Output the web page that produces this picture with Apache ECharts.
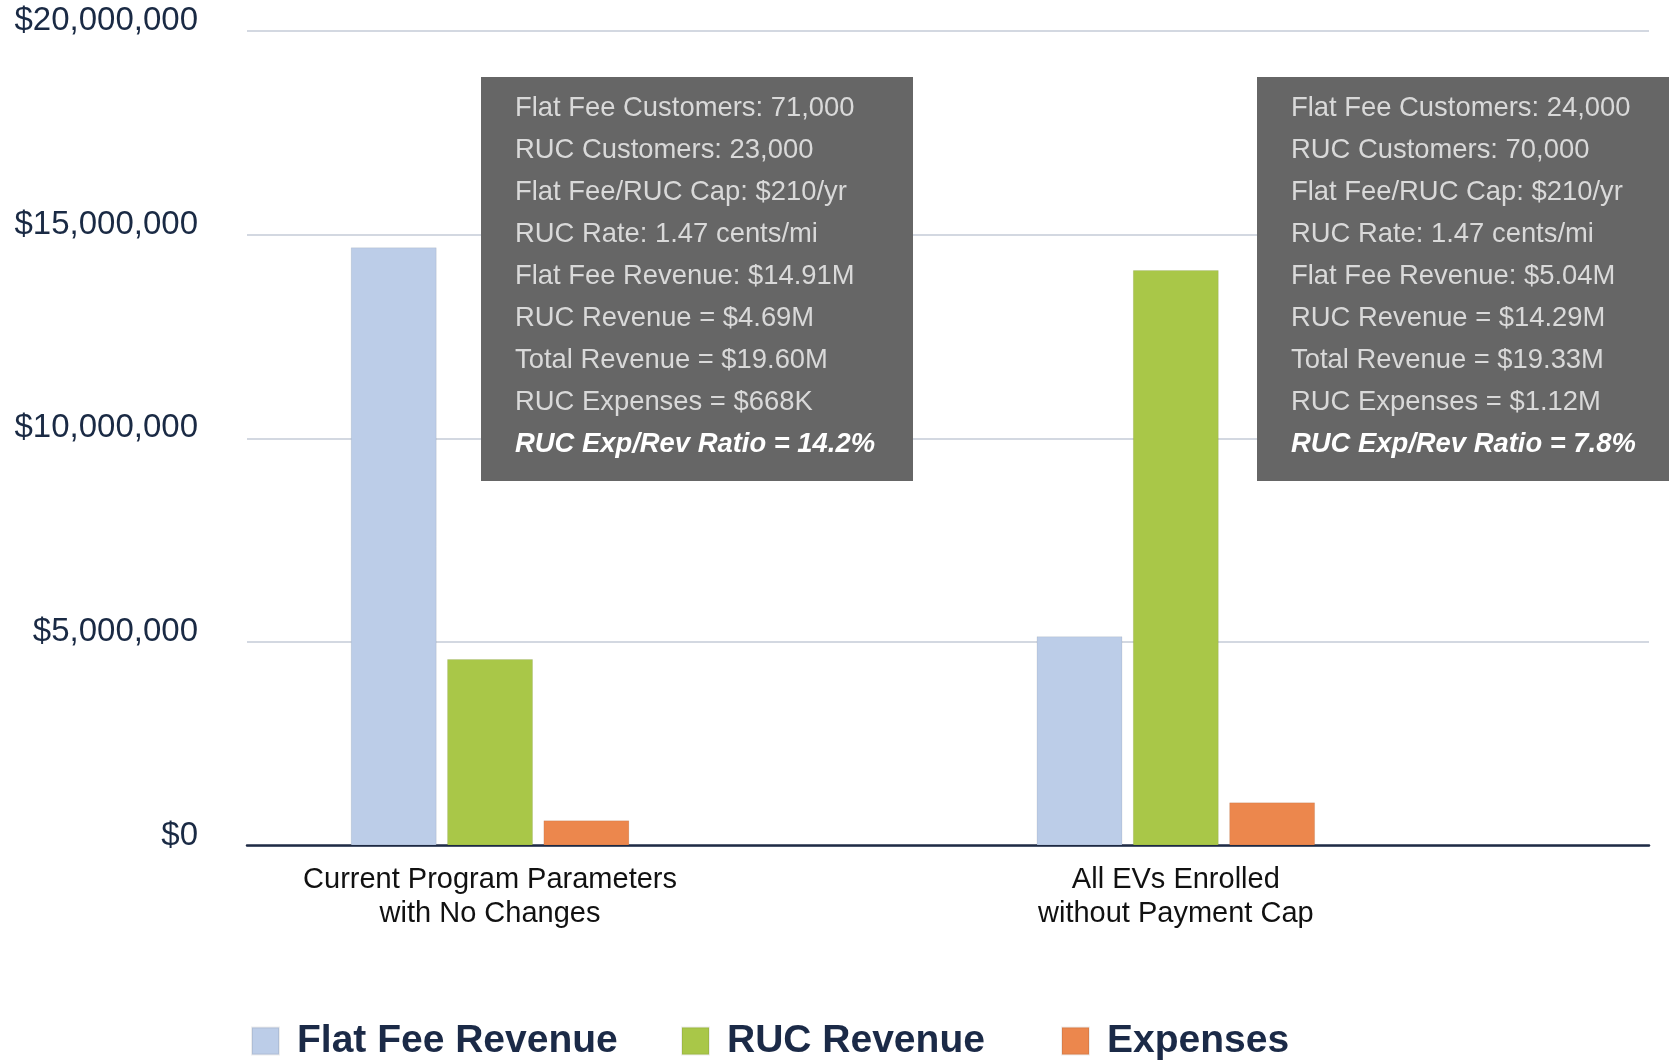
<!DOCTYPE html>
<html>
<head>
<meta charset="utf-8">
<script src="https://cdn.jsdelivr.net/npm/echarts@6/dist/echarts.min.js"></script>
<style>
  html, body { margin: 0; padding: 0; background: #ffffff; }
  #chart { width: 1669px; height: 1060px; }
</style>
</head>
<body>
<div id="chart"></div>
<script>
// ---- data ----
const categories = ['Current Program Parameters\nwith No Changes', 'All EVs Enrolled\nwithout Payment Cap'];
const seriesNames = ['Flat Fee Revenue', 'RUC Revenue', 'Expenses'];
const flatFeeRevenue = [14690000, 5140000];
const rucRevenue = [4580000, 14130000];
const expenses = [620000, 1060000];
const yTicks = [0, 5000000, 10000000, 15000000, 20000000];
const notesCurrent = [
  'Flat Fee Customers: 71,000',
  'RUC Customers: 23,000',
  'Flat Fee/RUC Cap: $210/yr',
  'RUC Rate: 1.47 cents/mi',
  'Flat Fee Revenue: $14.91M',
  'RUC Revenue = $4.69M',
  'Total Revenue = $19.60M',
  'RUC Expenses = $668K',
  'RUC Exp/Rev Ratio = 14.2%'
];
const notesAllEVs = [
  'Flat Fee Customers: 24,000',
  'RUC Customers: 70,000',
  'Flat Fee/RUC Cap: $210/yr',
  'RUC Rate: 1.47 cents/mi',
  'Flat Fee Revenue: $5.04M',
  'RUC Revenue = $14.29M',
  'Total Revenue = $19.33M',
  'RUC Expenses = $1.12M',
  'RUC Exp/Rev Ratio = 7.8%'
];

// ---- styling ----
const colors = ['#bccde8', '#a9c748', '#ec874d'];
const FONT = '"Liberation Sans", Arial, sans-serif';

const chart = echarts.init(document.getElementById('chart'), null, { renderer: 'canvas' });

const seriesValues = [flatFeeRevenue, rucRevenue, expenses];
const series = seriesNames.map((name, si) => ({
  name: name,
  type: 'bar',
  barWidth: 86,
  barGap: '12%',
  data: seriesValues[si].map((v, ci) => [ci, v]),
  itemStyle: { color: colors[si], borderColor: 'rgba(0,0,0,0.07)', borderWidth: 1 },
  emphasis: { disabled: true },
  z: 3
}));

function noteBox(x, lines) {
  const children = [{
    type: 'rect',
    shape: { x: x, y: 77, width: 432, height: 404 },
    style: { fill: '#666666' },
    z: 10
  }];
  lines.forEach((t, i) => {
    const last = i === lines.length - 1;
    children.push({
      type: 'text',
      x: x + 34,
      y: 108.5 + i * 42,
      style: {
        text: t,
        fill: last ? '#ffffff' : '#d9d9d9',
        font: (last ? 'italic bold ' : '') + '27.4px ' + FONT,
        verticalAlign: 'middle',
        align: 'left'
      },
      z: 11
    });
  });
  return { type: 'group', children: children };
}

const legendCommon = {
  icon: 'rect',
  itemWidth: 27,
  itemHeight: 27,
  top: 1021,
  padding: 0,
  selectedMode: false,
  textStyle: {
    fontFamily: FONT,
    fontSize: 39,
    fontWeight: 'bold',
    color: '#1b2a47',
    lineHeight: 40,
    padding: [0, 0, 0, 13]
  }
};

const option = {
  backgroundColor: '#ffffff',
  animation: false,
  color: colors,
  grid: { left: 247, right: 20, top: 31, bottom: 214.5, containLabel: false },
  legend: [
    Object.assign({}, legendCommon, { left: 251, data: [seriesNames[0]] }),
    Object.assign({}, legendCommon, { left: 681, data: [seriesNames[1]] }),
    Object.assign({}, legendCommon, { left: 1061, data: [seriesNames[2]] })
  ],
  xAxis: {
    type: 'value',
    min: -0.3544,
    max: 1.690,
    axisLine: { show: true, lineStyle: { color: '#1f2b45', width: 2.5 } },
    axisTick: { show: false },
    splitLine: { show: false },
    axisLabel: {
      customValues: categories.map((c, i) => i),
      formatter: (v) => categories[Math.round(v)] || '',
      fontFamily: FONT,
      fontSize: 29,
      lineHeight: 34,
      color: '#111111',
      margin: 17,
      align: 'center'
    }
  },
  yAxis: {
    type: 'value',
    min: yTicks[0],
    max: yTicks[yTicks.length - 1],
    interval: yTicks[1] - yTicks[0],
    axisLine: { show: false },
    axisTick: { show: false },
    splitLine: { show: true, lineStyle: { color: '#d3d8e1', width: 2 } },
    axisLabel: {
      formatter: (v) => '$' + v.toLocaleString('en-US'),
      fontFamily: FONT,
      fontSize: 33,
      color: '#1a2a44',
      margin: 49,
      verticalAlign: 'bottom',
      lineHeight: 20
    }
  },
  graphic: [noteBox(481, notesCurrent), noteBox(1257, notesAllEVs)],
  series: series
};

chart.setOption(option);
</script>
</body>
</html>
